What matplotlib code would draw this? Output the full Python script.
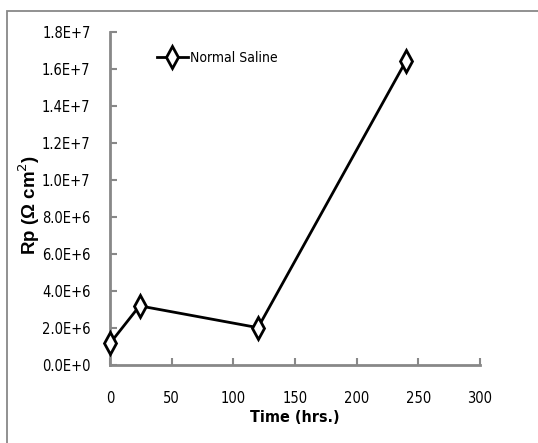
import matplotlib
matplotlib.use("Agg")
import matplotlib.pyplot as plt
from matplotlib.patches import Rectangle

# data
time_hrs = [0, 24, 120, 240]
rp_values = [1.17e6, 3.2e6, 2.02e6, 1.645e7]
series_name = 'Normal Saline'
x_ticks = [0, 50, 100, 150, 200, 250, 300]
y_ticks = [0, 2e6, 4e6, 6e6, 8e6, 1e7, 1.2e7, 1.4e7, 1.6e7, 1.8e7]
y_labels = ['0.0E+0', '2.0E+6', '4.0E+6', '6.0E+6', '8.0E+6',
            '1.0E+7', '1.2E+7', '1.4E+7', '1.6E+7', '1.8E+7']

narrow = dict(family='DejaVu Sans', stretch='condensed')
W, H = 538, 443
fig = plt.figure(figsize=(W / 100, H / 100), dpi=100)
ax = fig.add_axes([110 / W, 1 - 365 / H, 370 / W, (365 - 32.3) / H])

ax.plot(time_hrs, rp_values, color='black', lw=2, marker='d', markersize=11,
        markerfacecolor='white', markeredgecolor='black', markeredgewidth=2,
        label=series_name, clip_on=False, zorder=3)

ax.set_xlim(0, 300)
ax.set_ylim(0, 1.8e7)
ax.set_xticks(x_ticks)
ax.set_xticklabels([str(v) for v in x_ticks], fontsize=10.5, **narrow)
ax.set_yticks(y_ticks)
ax.set_yticklabels(y_labels, fontsize=10.5, **narrow)

for s in ['top', 'right']:
    ax.spines[s].set_visible(False)
for s in ['left', 'bottom']:
    ax.spines[s].set_color('#888888')
    ax.spines[s].set_linewidth(2)
ax.tick_params(axis='both', direction='in', length=5, width=1.5, color='#888888')
ax.tick_params(axis='x', pad=19)
ax.tick_params(axis='y', pad=14)

ax.set_xlabel('Time (hrs.)', fontweight='bold', fontsize=11.5, **narrow)
ax.xaxis.set_label_coords(0.5, -0.135)
ax.set_ylabel('Rp (Ω cm$^2$)', family='Liberation Sans', fontweight='bold', fontsize=13.5)
ax.yaxis.set_label_coords(-0.185, 0.48)

ax.legend(loc='center left', bbox_to_anchor=(157 / W, 1 - 58 / H),
          bbox_transform=fig.transFigure, frameon=False, prop=dict(size=10, **narrow),
          handlelength=2.2, handletextpad=0.15, borderpad=0, borderaxespad=0)

fig.patches.append(Rectangle((6.8 / W, -0.5), 2, 1.5 - 11.2 / H, transform=fig.transFigure,
                             fill=False, edgecolor='#888888', lw=1.3))

fig.savefig('out.png', dpi=100)
